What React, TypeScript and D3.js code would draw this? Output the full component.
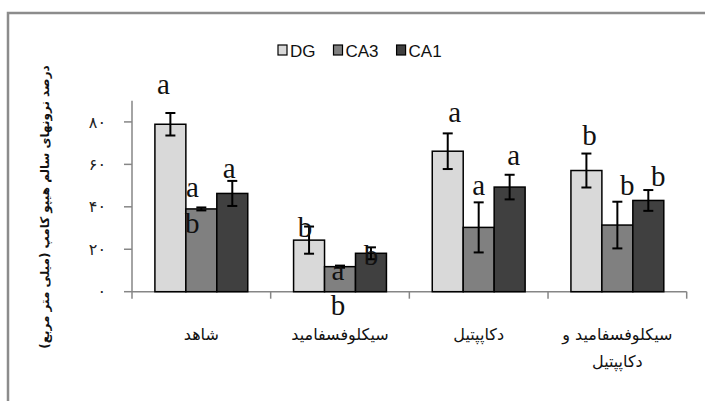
import React, { useEffect, useRef } from "react";
import * as d3 from "d3";

const categories = ["شاهد", "سیکلوفسفامید", "دکاپپتیل", "سیکلوفسفامید و دکاپپتیل"];
const series = ["DG", "CA3", "CA1"];
const seriesColors = ["#d9d9d9", "#808080", "#404040"];

const dgValues = [78.9, 24.3, 66.2, 57.1];
const dgErrors = [5.3, 6.4, 8.4, 8.0];
const ca3Values = [39.0, 11.8, 30.3, 31.4];
const ca3Errors = [0.7, 0.5, 11.8, 11.0];
const ca1Values = [46.3, 18.1, 49.3, 43.0];
const ca1Errors = [5.9, 2.8, 5.8, 4.9];

const yTicks = [0, 20, 40, 60, 80];
const yTickLabels = ["۰", "۲۰", "۴۰", "۶۰", "۸۰"];
const yTitle = "درصد نرونهای سالم هیپو کامپ (میلی متر مربع)";

// significance letters: category index, series index, letter, height (axis units), nudge
const letters = [
  { c: 0, s: 0, t: "a", v: 93.0, dx: -7 },
  { c: 0, s: 1, t: "a", v: 44.7, dx: -9 },
  { c: 0, s: 1, t: "b", v: 27.6, dx: -9 },
  { c: 0, s: 2, t: "a", v: 53.4, dx: -3 },
  { c: 1, s: 0, t: "b", v: 25.7, dx: -4 },
  { c: 1, s: 1, t: "a", v: 5.5, dx: -2 },
  { c: 1, s: 1, t: "b", v: -11.1, dx: -2 },
  { c: 1, s: 2, t: "b", v: 12.6, dx: 0 },
  { c: 2, s: 0, t: "a", v: 80.0, dx: 7 },
  { c: 2, s: 1, t: "a", v: 45.5, dx: 0 },
  { c: 2, s: 2, t: "a", v: 59.6, dx: 4 },
  { c: 3, s: 0, t: "b", v: 69.0, dx: 3 },
  { c: 3, s: 1, t: "b", v: 45.5, dx: 10 },
  { c: 3, s: 2, t: "b", v: 49.7, dx: 10 },
];

const width = 705;
const height = 401;

const App = () => {
  const ref = useRef<SVGSVGElement | null>(null);

  useEffect(() => {
    document.body.style.margin = "0";
    const svg = d3.select(ref.current);
    svg.selectAll("*").remove();

    const values = [dgValues, ca3Values, ca1Values];
    const errors = [dgErrors, ca3Errors, ca1Errors];

    const margin = { left: 132, right: 18.3, top: 100.7, bottom: 109.3 };

    // outer frame (cut off by the picture on the right and bottom)
    svg.append("rect")
      .attr("x", 8).attr("y", 13)
      .attr("width", width).attr("height", height)
      .attr("fill", "none")
      .attr("stroke", "#8c8c8c")
      .attr("stroke-width", 2.5);

    const x0 = d3.scaleBand()
      .domain(categories)
      .range([margin.left, width - margin.right]);

    const x1 = d3.scaleBand()
      .domain(series)
      .range([0, x0.bandwidth()])
      .paddingOuter(0.74);

    const y = d3.scaleLinear()
      .domain([0, 90])
      .range([height - margin.bottom, margin.top]);

    const axisColor = "#868686";

    // y axis
    svg.append("line")
      .attr("x1", margin.left).attr("x2", margin.left)
      .attr("y1", y(0)).attr("y2", y(90))
      .attr("stroke", axisColor).attr("stroke-width", 1.5);

    svg.selectAll(".ytick")
      .data(yTicks)
      .enter()
      .append("line")
      .attr("x1", margin.left - 8).attr("x2", margin.left)
      .attr("y1", d => y(d)).attr("y2", d => y(d))
      .attr("stroke", axisColor).attr("stroke-width", 1.5);

    svg.selectAll(".ylabel")
      .data(yTicks)
      .enter()
      .append("text")
      .attr("x", margin.left - 26)
      .attr("y", d => y(d))
      .attr("dy", "0.35em")
      .attr("text-anchor", "end")
      .attr("font-family", "DejaVu Sans")
      .attr("font-size", 16)
      .attr("fill", "#222")
      .text((d, i) => yTickLabels[i]);

    // x axis
    svg.append("line")
      .attr("x1", margin.left).attr("x2", width - margin.right)
      .attr("y1", y(0)).attr("y2", y(0))
      .attr("stroke", axisColor).attr("stroke-width", 1.5);

    const boundaries = [...categories.map(c => x0(c) as number), width - margin.right];
    svg.selectAll(".xtick")
      .data(boundaries)
      .enter()
      .append("line")
      .attr("x1", d => d).attr("x2", d => d)
      .attr("y1", y(0)).attr("y2", y(0) + 7)
      .attr("stroke", axisColor).attr("stroke-width", 1.5);

    // category labels, wrapped to the band width
    categories.forEach(cat => {
      const cx = (x0(cat) as number) + x0.bandwidth() / 2;
      const text = svg.append("text")
        .attr("text-anchor", "middle")
        .attr("direction", "rtl")
        .attr("font-family", "DejaVu Sans")
        .attr("font-size", 16)
        .attr("fill", "#111");
      const words = cat.split(" ");
      let line: string[] = [];
      let lineNo = 0;
      let tspan = text.append("tspan").attr("x", cx).attr("y", 340);
      words.forEach(w => {
        line.push(w);
        tspan.text(line.join(" "));
        const node = tspan.node() as SVGTSpanElement;
        if (node.getComputedTextLength() > x0.bandwidth() && line.length > 1) {
          line.pop();
          tspan.text(line.join(" "));
          line = [w];
          lineNo++;
          tspan = text.append("tspan").attr("x", cx).attr("y", 340 + lineNo * 27).text(w);
        }
      });
    });

    // bars
    const groups = svg.selectAll(".group")
      .data(categories)
      .enter()
      .append("g")
      .attr("transform", d => `translate(${x0(d)},0)`);

    groups.each(function (cat, ci) {
      const g = d3.select(this);
      series.forEach((s, si) => {
        const v = values[si][ci];
        g.append("rect")
          .attr("x", x1(s) as number)
          .attr("y", y(v))
          .attr("width", x1.bandwidth())
          .attr("height", y(0) - y(v))
          .attr("fill", seriesColors[si])
          .attr("stroke", "#000")
          .attr("stroke-width", 1.5);
      });
      series.forEach((s, si) => {
        const v = values[si][ci];
        const e = errors[si][ci];
        const cx = (x1(s) as number) + x1.bandwidth() / 2;
        g.append("line")
          .attr("x1", cx).attr("x2", cx)
          .attr("y1", y(v - e)).attr("y2", y(v + e))
          .attr("stroke", "#000").attr("stroke-width", 2);
        [v - e, v + e].forEach(end => {
          g.append("line")
            .attr("x1", cx - 5).attr("x2", cx + 5)
            .attr("y1", y(end)).attr("y2", y(end))
            .attr("stroke", "#000").attr("stroke-width", 2);
        });
      });
    });

    // significance letters
    svg.selectAll(".letter")
      .data(letters)
      .enter()
      .append("text")
      .attr("x", d => (x0(categories[d.c]) as number) + (x1(series[d.s]) as number) + x1.bandwidth() / 2 + d.dx)
      .attr("y", d => y(d.v))
      .attr("text-anchor", "middle")
      .attr("font-family", "Liberation Serif")
      .attr("font-size", 29)
      .attr("fill", "#111")
      .text(d => d.t);

    // legend
    const legend = svg.append("g").attr("transform", "translate(278,0)");
    let lx = 0;
    series.forEach((s, si) => {
      legend.append("rect")
        .attr("x", lx).attr("y", 45)
        .attr("width", 9).attr("height", 10)
        .attr("fill", seriesColors[si])
        .attr("stroke", "#000").attr("stroke-width", 1.2);
      const t = legend.append("text")
        .attr("x", lx + 12).attr("y", 56.5)
        .attr("font-family", "Liberation Sans")
        .attr("font-size", 17)
        .attr("fill", "#111")
        .text(s);
      lx += 12 + (t.node() as SVGTextElement).getComputedTextLength() + 18;
    });

    // y title
    svg.append("text")
      .attr("transform", `translate(45,207) rotate(-90)`)
      .attr("text-anchor", "middle")
      .attr("direction", "rtl")
      .attr("dy", "0.35em")
      .attr("font-family", "DejaVu Sans")
      .attr("font-weight", "bold")
      .attr("font-size", 12)
      .attr("fill", "#111")
      .text(yTitle);
  }, []);

  return (
    <svg ref={ref} width={width} height={height} style={{ display: "block", background: "#fff" }}></svg>
  );
};

export default App;
